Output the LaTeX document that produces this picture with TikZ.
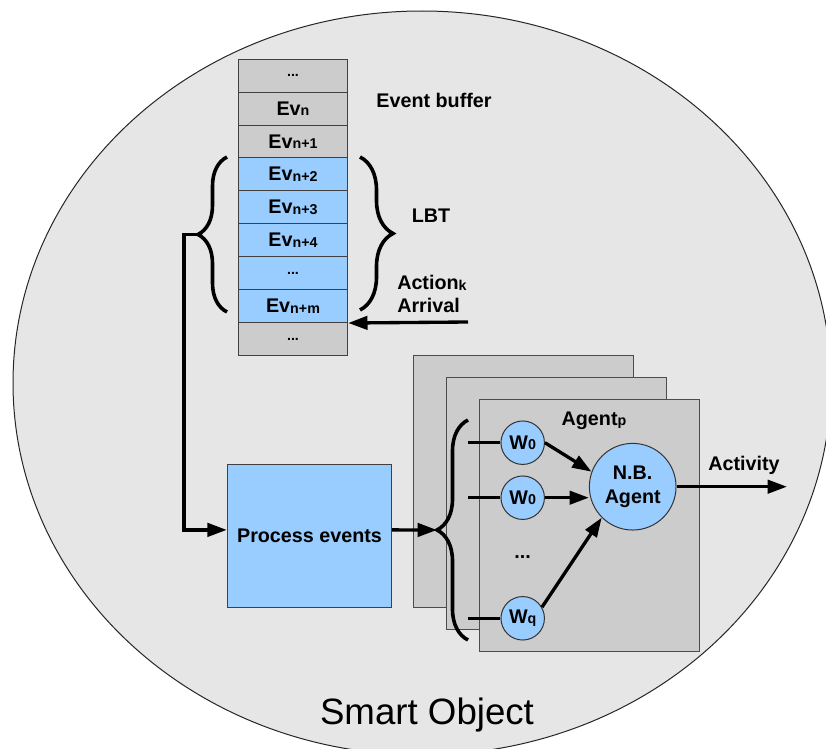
\documentclass[tikz,border=0pt]{standalone}
\usepackage{fontspec}
\setmainfont{Liberation Sans}
\usetikzlibrary{arrows.meta,calc,decorations.pathreplacing,positioning}

\definecolor{objgray}{HTML}{E6E6E6}
\definecolor{cellgray}{HTML}{CCCCCC}
\definecolor{cellblue}{HTML}{99CCFF}

% label fonts
\newcommand{\lbl}{\bfseries\fontsize{14.8}{17.5}\selectfont}
\newcommand{\idx}[1]{\raisebox{-0.5pt}{\fontsize{10.7}{12}\selectfont #1}}
\newcommand{\dotsx}{...}

\tikzset{
  cell/.style={draw=black!75, line width=0.75pt, minimum width=82pt,
    minimum height=24.7pt, inner sep=0pt, font=\lbl},
  procbox/.style={draw=black!75, fill=cellblue, line width=0.75pt,
    minimum width=123.3pt, minimum height=106.7pt, font=\lbl},
  agentbox/.style={draw=black!70, fill=cellgray, line width=0.75pt,
    minimum width=165pt, minimum height=189pt},
  wnode/.style={circle, draw=black!80, fill=cellblue, line width=0.75pt,
    minimum size=32.6pt, inner sep=0pt, font=\lbl},
  flow/.style={line width=2.5pt, -{Triangle[length=14.5pt,width=10pt]}},
  link/.style={line width=2.5pt},
  bracket/.style={line width=2.7pt, decorate, decoration={brace, amplitude=#1}},
}

\begin{document}
\begin{tikzpicture}[x=0.75pt, y=-0.75pt]
  \useasboundingbox (0,0) rectangle (826,749);
  \clip (0,0) rectangle (826,749);

  % Smart object
  \draw[draw=black!85, fill=objgray, line width=0.75pt]
    (422,383) ellipse [x radius=306.75pt, y radius=279pt];
  \node[anchor=base, font=\fontsize{27.5}{32}\selectfont] (title) at (427,724) {Smart Object};

  % Event buffer
  \foreach \txt/\col [count=\i] in {\idx{\dotsx}/cellgray, Ev\idx{n}/cellgray,
      Ev\idx{n+1}/cellgray, Ev\idx{n+2}/cellblue, Ev\idx{n+3}/cellblue,
      Ev\idx{n+4}/cellblue, \idx{\dotsx}/cellblue, Ev\idx{n+m}/cellblue,
      \idx{\dotsx}/cellgray}
    \node[cell, fill=\col] (r\i) at (293, 42.85+32.9*\i) {\txt};

  \node[anchor=base, font=\lbl] (buflbl) at (434,108) {Event buffer};
  \node[anchor=base, font=\lbl] (lbtlbl) at (431,223) {LBT};
  \node[anchor=west, align=left, font=\lbl, inner sep=0pt] (actionlbl) at (397,294)
    {Action\idx{k}\\Arrival};

  % Braces
  \coordinate (lbTop) at (227,157);
  \coordinate (lbBot) at (227,312);
  \coordinate (lbTip) at (198,234.5);
  \draw[bracket=21.75pt] (lbBot) -- (lbTop);
  \coordinate (rbTop) at (360,157);
  \coordinate (rbBot) at (360,310);
  \draw[bracket=24.75pt] (rbTop) -- (rbBot);

  \coordinate (arrStart) at (468,322);
  \draw[flow] (arrStart) -- (r8.south east);

  % Process events
  \node[procbox] (proc) at (309.5,535.9) {Process events};
  \draw[flow] (lbTip) -- ++(-14,0) |- ($(proc.west)+(0,-6)$);

  % Agents
  \node[agentbox] (agA) at (523.3,481.2) {};
  \node[agentbox] (agB) at (556.3,503) {};
  \node[agentbox] (agC) at (589.2,525.2) {};
  \node[anchor=base, font=\lbl] (aglbl) at (594,425) {Agent\idx{p}};

  \coordinate (abTop) at (468,420);
  \coordinate (abBot) at (468,640);
  \coordinate (abTip) at (437,530);
  \draw[bracket=23.25pt] (abBot) -- (abTop);
  \draw[flow] ($(proc.east)+(0,-6)$) -- (abTip);

  \node[wnode] (w1) at (522.7,442.7) {W\idx{0}};
  \node[wnode] (w2) at (522.7,497.7) {W\idx{0}};
  \node[wnode] (w3) at (522.7,618.3) {W\idx{q}};
  \node[font=\lbl] (wdots) at (522.7,557) {...};
  \node[wnode, minimum size=65pt, align=center] (nb) at (632.7,486.7) {N.B.\\Agent};

  \foreach \w in {w1,w2,w3}
    \draw[link] (\w.west) -- (\w.west -| abTop);
  \draw[flow] (w1.east) -- (nb.160);
  \draw[flow] (w2.east) -- (w2.east -| nb.west);
  \draw[flow] (w3.30) -- (nb.225);

  \coordinate (actEnd) at (787,486.7);
  \draw[flow] (nb.east) -- (actEnd);
  \node[anchor=base, font=\lbl] (actlbl) at (744,470) {Activity};
\end{tikzpicture}
\end{document}
